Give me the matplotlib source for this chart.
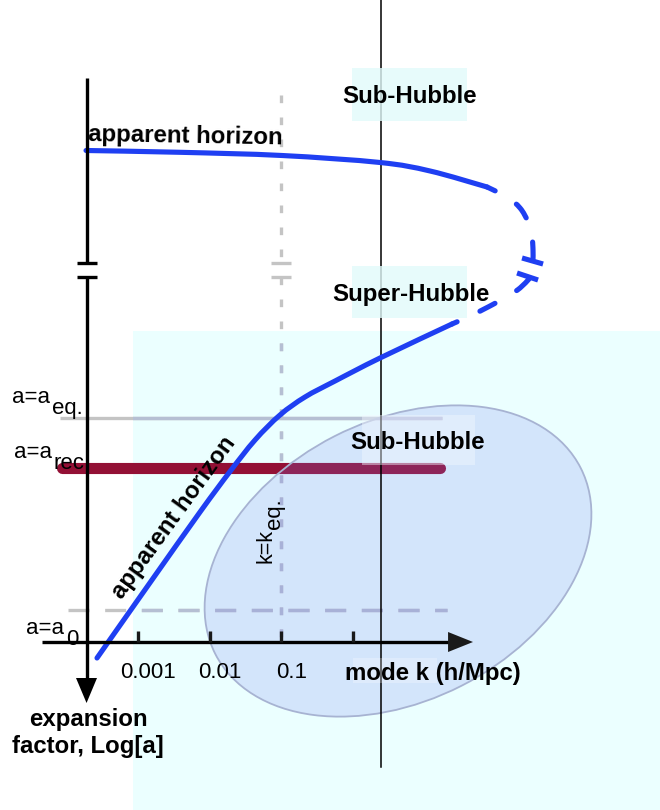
import numpy as np
import matplotlib
matplotlib.use("Agg")
import matplotlib.pyplot as plt
from matplotlib.patches import Rectangle, Ellipse, Polygon, PathPatch
from matplotlib.path import Path
from matplotlib.transforms import Affine2D

plt.rcParams['font.family'] = ['Liberation Sans', 'DejaVu Sans']

# ---------------- data ----------------
# x : log10 of mode k [h/Mpc];  y : Log[a] (schematic units, increasing downward)
tick_k = [0.001, 0.01, 0.1, 1.0]
tick_labels = ['0.001', '0.01', '0.1', '']
k_eq = 0.1
k_ref = 2.45                      # thin black reference line

a_eq, a_rec, a_0 = 418, 468, 610
axis_loga = 642

# apparent horizon
hor_low_logk = [-3.572, -2.833, -2.135, -1.717, -1.368, -1.020, -0.671, -0.252, 0.375, 1.379]
hor_low_loga = [658, 582.7, 512, 471.5, 440, 415, 397, 381, 358, 324]
# dashed parts, each starting at the break
hor_dash_low_logk = [2.453, 2.328, 2.160, 1.909, 1.630, 1.379]
hor_dash_low_loga = [279, 288, 296, 306, 316, 324]
hor_dash_up_logk = [2.509, 2.509, 2.495, 2.439, 2.328, 2.146, 1.868]
hor_dash_up_loga = [259, 250, 237, 222, 208, 197, 187]
hor_top_logk = [1.868, 1.073, 0.375, -0.992, -2.414, -3.725]
hor_top_loga = [187, 171, 162.5, 155.5, 152.3, 150.5]

# ---------------- styling constants ----------------
DEC = 71.7                       # pixels per decade of k
BLUE = '#1f3ff2'
RED = '#931035'
GRAY = '#c4c4c4'
GRAYB = '#b5bfd3'
CYAN = '#ebffff'
LW_B = 3.7

fig = plt.figure(figsize=(6.6, 8.1), dpi=100)
ax = fig.add_axes([0, 0, 1, 1])
ax.set_xlim(-4.925, 4.280)
ax.set_ylim(810, 0)
ax.axis('off')


def smooth_path(xs, ys):
    """Catmull-Rom through the read points, drawn as cubic Bezier by matplotlib."""
    P = np.column_stack([xs, ys]).astype(float)
    n = len(P)
    verts = [P[0]]
    codes = [Path.MOVETO]
    for i in range(n - 1):
        p0 = P[i - 1] if i > 0 else P[i]
        p3 = P[i + 2] if i + 2 < n else P[i + 1]
        c1 = P[i] + (P[i + 1] - p0) / 6.0
        c2 = P[i + 1] - (p3 - P[i]) / 6.0
        verts += [c1, c2, P[i + 1]]
        codes += [Path.CURVE4] * 3
    return Path(verts, codes)


# cyan background region
bg = Rectangle((-3.07, 331), 4.280 + 3.07, 810 - 331, facecolor=CYAN,
               edgecolor='none', zorder=0)
ax.add_patch(bg)


def twotone(xs, ys, **kw):
    l1, = ax.plot(xs, ys, color=GRAY, **kw)
    l2, = ax.plot(xs, ys, color=GRAYB, **kw)
    l2.set_clip_path(bg)
    return l1, l2


# horizontal a-levels
twotone([-4.088, 1.240], [a_eq, a_eq], lw=2.4, solid_capstyle='butt', zorder=1)
twotone([-3.976, 1.310], [a_0, a_0], lw=2.4, dashes=(6.3, 4.7), zorder=1)
ax.plot([-4.060, 1.212], [a_rec, a_rec], color=RED, lw=8, solid_capstyle='round', zorder=2)

# k = k_eq dotted line (with break)
lk_eq = np.log10(k_eq)
for y0, y1 in [(95, 263), (277, 642)]:
    twotone([lk_eq, lk_eq], [y0, y1], lw=2.4, dashes=(2.3, 4.3), zorder=1)
for yb in (263, 277):
    ax.plot([lk_eq - 0.139, lk_eq + 0.139], [yb, yb], color=GRAY, lw=2.4,
            solid_capstyle='butt', zorder=1)

# sub-Hubble ellipse
ell_tr = Affine2D().scale(1 / DEC, 1).translate(0.626, 561) + ax.transData
ax.add_patch(Ellipse((0, 0), 2 * 205, 2 * 140, angle=-27, facecolor='#777deb',
                     alpha=0.2, edgecolor='none', zorder=3, transform=ell_tr))
ax.add_patch(Ellipse((0, 0), 2 * 205, 2 * 140, angle=-27, facecolor='none',
                     edgecolor='#a7b3d2', lw=1.3, zorder=3, transform=ell_tr))

# thin reference line
lk_ref = np.log10(k_ref)
ax.plot([lk_ref, lk_ref], [0, 767], color='black', lw=1.1, zorder=4)

# label boxes
for (x0, x1, y0, y1, fc, al) in [(-0.015, 1.589, 68, 121, '#e2fbfb', 0.8),
                                 (-0.015, 1.589, 266, 318, '#e2fbfb', 0.8),
                                 (0.124, 1.700, 415, 465, '#f2f8ff', 0.45),
                                 (0.0, 1.17, 658, 683, '#ffffff', 0.25)]:
    ax.add_patch(Rectangle((x0, y0), x1 - x0, y1 - y0, facecolor=fc, alpha=al,
                           edgecolor='none', zorder=5))

# apparent horizon curve
for xs, ys in [(hor_low_logk, hor_low_loga), (hor_top_logk, hor_top_loga)]:
    ax.add_patch(PathPatch(smooth_path(xs, ys), facecolor='none', edgecolor=BLUE,
                           lw=LW_B, capstyle='round', joinstyle='round', zorder=6))
for xs, ys in [(hor_dash_low_logk, hor_dash_low_loga), (hor_dash_up_logk, hor_dash_up_loga)]:
    ax.add_patch(PathPatch(smooth_path(xs, ys), facecolor='none', edgecolor=BLUE,
                           lw=LW_B, linestyle=(0, (3.3, 4.9)), capstyle='round',
                           zorder=6))
ax.plot([2.356, 2.649], [258, 264], color=BLUE, lw=LW_B, solid_capstyle='butt', zorder=6)
ax.plot([2.286, 2.579], [273, 280], color=BLUE, lw=LW_B, solid_capstyle='butt', zorder=6)

# axes (drawn)
x_ax = -3.718
ax.plot([x_ax, x_ax], [78, 263], color='black', lw=2.4, solid_capstyle='butt', zorder=7)
ax.plot([x_ax, x_ax], [277, 685], color='black', lw=2.4, solid_capstyle='butt', zorder=7)
for yb in (263, 277):
    ax.plot([x_ax - 0.133, x_ax + 0.146], [yb, yb], color='black', lw=2.4,
            solid_capstyle='butt', zorder=7)
ax.add_patch(Polygon([(-3.865, 678), (-3.572, 678), (x_ax, 703)], closed=True,
                     facecolor='black', edgecolor='none', zorder=7))
ax.plot([-4.339, 1.35], [axis_loga, axis_loga], color='black', lw=2.4,
        solid_capstyle='butt', zorder=7)
ax.add_patch(Polygon([(1.324, 632), (1.324, 652), (1.672, axis_loga)], closed=True,
                     facecolor='#1a1a1a', edgecolor='none', zorder=7))
for k, lbl in zip(tick_k, tick_labels):
    lk = np.log10(k)
    ax.plot([lk, lk], [axis_loga, 631], color='#1a1a1a', lw=2.4,
            solid_capstyle='butt', zorder=7)
    if lbl:
        ax.annotate(lbl, xy=(lk, 678), xytext=(7.2, 0), textcoords='offset points',
                    ha='center', va='baseline', fontsize=16, zorder=8)

# texts
BOLD = dict(fontsize=17.3, fontweight='bold', zorder=8)
ax.text(1.114, 680, 'mode k (h/Mpc)', ha='center', va='baseline', **BOLD)
ax.text(-3.697, 726, 'expansion', ha='center', va='baseline', **BOLD)
ax.text(-3.697, 753, 'factor, Log[a]', ha='center', va='baseline', **BOLD)
ax.text(0.794, 103, 'Sub-Hubble', ha='center', va='baseline', **BOLD)
ax.text(0.808, 301, 'Super-Hubble', ha='center', va='baseline', **BOLD)
ax.text(0.905, 449, 'Sub-Hubble', ha='center', va='baseline', **BOLD)
ax.text(-3.69, 141, 'apparent horizon', ha='left', va='baseline', rotation=-1.0,
        rotation_mode='anchor', **BOLD)
ax.text(-2.498, 518, 'apparent horizon', ha='center', va='center', rotation=54,
        rotation_mode='anchor', **BOLD)

# level labels
for (main_x, main_y, sub_x, sub_y, sub) in [(-4.757, 403, -4.199, 414, 'eq.'),
                                            (-4.729, 458, -4.185, 469, 'rec.'),
                                            (-4.562, 634, -4.004, 645, '0')]:
    ax.text(main_x, main_y, 'a=a', ha='left', va='baseline', fontsize=16, zorder=8)
    ax.text(sub_x, sub_y, sub, ha='left', va='baseline', fontsize=16, zorder=8)

# k = k_eq label (rotated)
ax.text(-1.145, 563, 'k=k', ha='left', va='baseline', rotation=90,
        rotation_mode='anchor', fontsize=15.5, zorder=8)
ax.text(-1.020, 529, 'eq.', ha='left', va='baseline', rotation=90,
        rotation_mode='anchor', fontsize=16, zorder=8)

fig.savefig('out.png', dpi=100)
